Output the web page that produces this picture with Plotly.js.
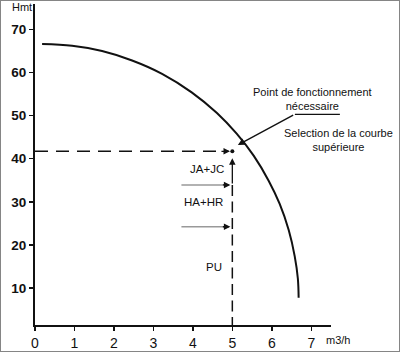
<!DOCTYPE html>
<html>
<head>
<meta charset="utf-8">
<script src="https://cdn.plot.ly/plotly-3.0.1.min.js"></script>
<style>
  html, body { margin: 0; padding: 0; background: #fff; }
  #wrap { position: relative; width: 400px; height: 352px; }
  #chart { width: 400px; height: 352px; }
  #frame { position: absolute; left: 0; top: 0; width: 398px; height: 350px; border: 1px solid #858585; pointer-events: none; }
</style>
</head>
<body>
<div id="wrap"><div id="chart"></div><div id="frame"></div></div>
<script>
// Pump curve (débit m3/h, Hmt m)
const curveQ = [0.18, 0.94, 1.70, 2.46, 3.22, 3.97, 4.61, 5.11, 5.54, 5.92, 6.20, 6.43, 6.58, 6.66, 6.68];
const curveH = [66.6, 66.2, 65.0, 62.8, 59.7, 55.4, 50.6, 45.8, 40.7, 34.9, 29.5, 23.4, 17.4, 12.2, 7.7];

// Required operating point
const pointQ = [5.0];
const pointH = [41.7];

// Head components
const componentLabels = ["JA+JC", "HA+HR", "PU"];
const componentLabelQ = [4.35, 4.28, 4.54];
const componentLabelH = [37.7, 29.9, 14.9];
const boundaryH = [33.9, 24.2];       // gray arrows marking the component limits
const boundaryStartQ = 3.71;

// Axis ticks
const xTicks = [0, 1, 2, 3, 4, 5, 6, 7];
const yTicks = [10, 20, 30, 40, 50, 60, 70];
const xRange = [0, 7.5];
const yRange = [1.4, 75.9];

const black = "#111";
const font = "Liberation Sans, Arial, sans-serif";

const traces = [
  { x: curveQ, y: curveH, mode: "lines", line: { color: black, width: 2, shape: "spline", smoothing: 1 }, hoverinfo: "skip" },
  // horizontal dashed line from the H axis to the point
  { x: [xRange[0], pointQ[0] - 0.1], y: [pointH[0], pointH[0]], mode: "lines", line: { color: black, width: 1.5, dash: "13px,8px" }, hoverinfo: "skip" },
  // vertical dashed line from the lowest boundary down to the Q axis
  { x: [pointQ[0], pointQ[0]], y: [boundaryH[0], yRange[0]], mode: "lines", line: { color: black, width: 1.5, dash: "11px,5.5px" }, hoverinfo: "skip" },
  // operating point
  { x: pointQ, y: pointH, mode: "markers", marker: { color: black, size: 4 }, hoverinfo: "skip", cliponaxis: false }
];
// gray boundary arrows
boundaryH.forEach(h => {
  traces.push({ x: [boundaryStartQ, pointQ[0] - 0.15], y: [h, h], mode: "lines", line: { color: "#999", width: 1.5 }, hoverinfo: "skip" });
});

const annotations = [];
// arrowheads on the gray arrows
boundaryH.forEach(h => {
  annotations.push({ x: pointQ[0] - 0.05, y: h, ax: -9, ay: 0, showarrow: true, arrowhead: 2, arrowsize: 1, arrowwidth: 1.3, arrowcolor: black, text: "" });
});
// arrowhead at end of horizontal dashed line
annotations.push({ x: pointQ[0] - 0.06, y: pointH[0], ax: -10, ay: 0, showarrow: true, arrowhead: 2, arrowsize: 1, arrowwidth: 1.3, arrowcolor: black, text: "" });
// upward arrow to the point
annotations.push({ x: pointQ[0], y: 40.1, axref: "x", ayref: "y", ax: pointQ[0], ay: boundaryH[0], showarrow: true, arrowhead: 2, arrowsize: 1, arrowwidth: 1.3, arrowcolor: black, text: "" });
// leader arrow from the caption
annotations.push({ x: 5.14, y: 43.2, axref: "x", ayref: "y", ax: 6.58, ay: 50.3, showarrow: true, arrowhead: 2, arrowsize: 1, arrowwidth: 1.4, arrowcolor: black, text: "" });
// component labels
componentLabels.forEach((t, i) => {
  annotations.push({ x: componentLabelQ[i], y: componentLabelH[i], text: t, showarrow: false, font: { family: font, size: 11.5, color: black }, xanchor: "center", yanchor: "middle" });
});
// captions
annotations.push({ x: 7.04, y: 53.8, text: "Point de fonctionnement<br>nécessaire", showarrow: false, font: { family: font, size: 11, color: black }, xanchor: "center", yanchor: "middle" });
annotations.push({ xref: "paper", yref: "paper", x: 1.026, y: 0.576, text: "Selection de la courbe<br>supérieure", showarrow: false, font: { family: font, size: 11, color: black }, xanchor: "center", yanchor: "middle" });
// axis names
annotations.push({ xref: "paper", yref: "paper", x: -0.045, y: 0.99, text: "Hmt", showarrow: false, font: { family: font, size: 11, color: black }, xanchor: "center", yanchor: "middle" });
annotations.push({ xref: "paper", yref: "paper", x: 1.022, y: -0.047, text: "m3/h", showarrow: false, font: { family: font, size: 11, color: black }, xanchor: "center", yanchor: "middle" });

const layout = {
  width: 400, height: 352,
  margin: { l: 35, r: 69, t: 4, b: 27, pad: 0 },
  paper_bgcolor: "#fff", plot_bgcolor: "#fff",
  showlegend: false,
  xaxis: {
    range: xRange, tickvals: xTicks, ticktext: xTicks.map(String),
    showline: true, linewidth: 2, linecolor: black, mirror: false,
    ticks: "outside", ticklen: 4, tickwidth: 1.5, tickcolor: black,
    showgrid: false, zeroline: false,
    tickfont: { family: font, size: 14, color: black }
  },
  yaxis: {
    range: yRange, tickvals: yTicks, ticktext: yTicks.map(String),
    showline: true, linewidth: 2, linecolor: black,
    ticks: "outside", ticklen: 4, tickwidth: 1.5, tickcolor: black,
    showgrid: false, zeroline: false,
    tickfont: { family: font, size: 13.5, color: black, weight: "bold" }
  },
  shapes: [
    { type: "line", xref: "paper", yref: "paper", x0: 0.878, x1: 1.03, y0: 0.656, y1: 0.656, line: { color: black, width: 1.4 } }
  ],
  annotations: annotations
};

Plotly.newPlot("chart", traces, layout, { displayModeBar: false, staticPlot: true });
</script>
</body>
</html>
